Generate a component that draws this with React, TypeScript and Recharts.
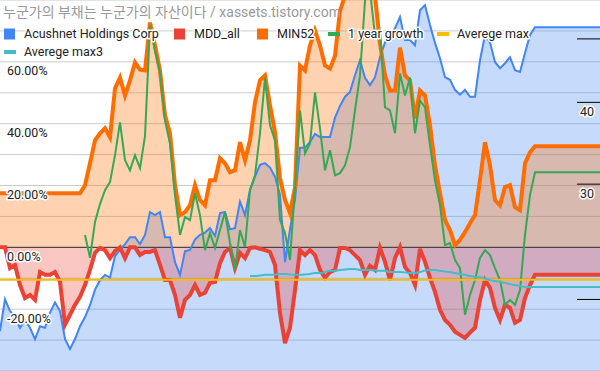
import React from 'react';
import { ComposedChart, Area, Line, XAxis, YAxis, CartesianGrid, ReferenceLine } from 'recharts';

const WIDTH = 600;
const HEIGHT = 371;

// one sample every ~5 px of the original x axis, oldest first (121 samples)
const PRICE = [
  17.9, 20.0, 19.2, 18.8, 18.1, 18.6, 18.1, 17.4, 18.2, 18.1,
  19.1, 19.8, 19.2, 17.4, 16.8, 17.4, 18.2, 18.8, 19.6, 20.7,
  21.4, 21.8, 21.6, 23.3, 23.8, 24.3, 24.9, 24.9, 24.3, 25.1,
  27.2, 26.9, 27.2, 24.9, 24.9, 22.8, 21.8, 23.7, 23.8, 24.7,
  25.1, 25.3, 25.7, 25.0, 27.1, 27.2, 25.6, 25.7, 28.2, 26.9,
  29.4, 30.8, 32.1, 32.3, 31.8, 30.8, 28.9, 22.8, 25.6, 28.4,
  34.1, 34.1, 34.8, 35.8, 35.4, 35.4, 35.4, 37.9, 39.5, 40.8,
  41.5, 44.0, 46.4, 43.6, 42.5, 43.7, 46.9, 49.4, 50.3, 51.9,
  54.0, 49.8, 49.8, 48.9, 55.3, 56.3, 52.5, 49.3, 46.7, 43.7,
  43.3, 41.8, 41.1, 41.8, 40.8, 40.8, 46.4, 50.7, 49.4, 46.1,
  45.1, 45.9, 46.9, 44.8, 44.5, 47.6, 50.7, 52.1, 52.1, 52.1,
  52.1, 52.1, 52.1, 52.1, 52.1, 52.1, 52.1, 52.1, 52.1, 52.1,
  52.1,
];

const MDD_ALL = [
  0, 0, -6.7, -5.7, -12.2, -16.4, -15.4, -17.0, -8.0, -8.9,
  -8.9, -8.0, -11.2, -25.0, -21.8, -18.6, -16.0, -12.2, -7.3, -1.8,
  -0.2, -0.9, -3.5, -1.2, 0, -3.5, 0, 0, -2.5, -1.5,
  -1.5, -0.9, -5.7, -10.6, -10.6, -15.4, -22.8, -17.0, -15.4, -12.2,
  -15.4, -14.7, -11.5, -11.2, -5.1, -1.5, -0.2, -6.7, -1.8, -3.5,
  -0.2, 0, -0.5, -0.9, -1.5, -5.7, -21.2, -31.0, -26.0, -13.8,
  -0.9, -2.5, -0.9, -2.5, -7.3, -9.9, -8.0, -7.3, -0.2, -0.2,
  -0.9, -2.5, -4.1, -8.9, -6.0, -7.3, -0.2, -4.7, -10.6, -3.5,
  0, -6.4, -8.3, -12.2, -0.5, -4.7, -9.9, -14.4, -20.2, -23.5,
  -25.1, -27.3, -28.3, -29.3, -27.6, -26.0, -17.0, -10.6, -13.1, -19.6,
  -23.5, -18.6, -19.6, -24.4, -23.5, -16.4, -12.2, -8.9, -8.9, -8.9,
  -8.9, -8.9, -8.9, -8.9, -8.9, -8.9, -8.9, -8.9, -8.9, -8.9,
  -8.9,
];

const MIN52 = [
  17.5, 17.5, 17.5, 17.5, 17.5, 17.5, 17.5, 17.5, 17.5, 17.5,
  17.5, 17.5, 17.5, 17.5, 17.5, 17.5, 17.5, 20.1, 27.2, 34.6,
  36.9, 38.5, 35.6, 51.4, 54.9, 49.1, 54.0, 59.8, 57.5, 57.2,
  72.7, 65.3, 57.2, 42.7, 36.9, 20.1, 10.4, 11.4, 13.6, 20.1,
  15.3, 13.6, 21.7, 21.7, 28.8, 27.2, 24.3, 24.9, 34.0, 28.2,
  34.6, 46.9, 54.0, 55.6, 45.9, 37.2, 22.4, 15.3, 11.1, 19.5,
  58.8, 57.2, 65.3, 70.1, 65.3, 58.8, 57.8, 62.0, 76.5, 81.4,
  83.0, 83.0, 84.6, 83.0, 81.4, 81.4, 65.9, 55.6, 50.7, 50.7,
  64.6, 55.6, 54.0, 41.7, 50.7, 49.1, 39.5, 26.5, 17.5, 8.8,
  5.6, 0.7, 2.4, 4.9, 7.8, 10.4, 21.7, 34.0, 26.5, 15.3,
  13.6, 19.5, 20.1, 13.0, 12.0, 27.2, 30.7, 32.7, 32.7, 32.7,
  32.7, 32.7, 32.7, 32.7, 32.7, 32.7, 32.7, 32.7, 32.7, 32.7,
  32.7,
];

const GROWTH_1Y = [
  null, null, null, null, null, null, null, null, null, null,
  null, null, null, null, null, null, null, 4.0, -3.4, 8.2,
  14.0, 18.5, 21.1, 29.8, 40.4, 28.2, 24.9, 29.8, 25.6, 36.0,
  71.7, 63.6, 56.5, 41.0, 33.6, 16.9, 4.0, 9.8, 8.8, 17.5,
  10.4, -0.9, 4.6, -0.2, 5.6, 11.4, 1.4, -7.3, 5.6, 0.1,
  18.5, 23.3, 36.9, 54.9, 39.5, 34.6, 8.8, 4.6, -4.1, 19.5,
  44.3, 30.4, 33.6, 50.1, 38.5, 24.9, 31.4, 23.3, 24.0, 26.5,
  32.4, 44.3, 55.6, 79.8, 83.0, 68.5, 70.1, 45.3, 44.3, 36.9,
  56.2, 49.1, 54.9, 36.9, 47.5, 45.3, 33.0, 21.7, 13.6, 0.7,
  1.4, -4.1, -6.7, -21.8, -15.4, -10.6, -3.4, -0.9, -2.5, -6.7,
  -10.6, -18.6, -17.0, -18.6, -13.8, 4.0, 16.9, 24.3, 24.3, 24.3,
  24.3, 24.3, 24.3, 24.3, 24.3, 24.3, 24.3, 24.3, 24.3, 24.3,
  24.3,
];

const AVG_MAX3 = [
  null, null, null, null, null, null, null, null, null, null,
  null, null, null, null, null, null, null, null, null, null,
  null, null, null, null, null, null, null, null, null, null,
  null, null, null, null, null, null, null, null, null, null,
  null, null, null, null, null, null, null, null, null, null,
  -9.3, -9.3, -9.1, -8.9, -8.9, -8.8, -8.6, -8.6, -8.8, -8.9,
  -8.9, -8.8, -8.6, -8.3, -8.3, -8.0, -7.6, -7.6, -7.3, -7.2,
  -7.0, -7.0, -7.3, -7.3, -7.3, -7.5, -7.6, -7.6, -8.0, -8.0,
  -8.0, -8.1, -8.3, -8.3, -8.0, -7.5, -7.3, -7.3, -7.6, -7.8,
  -8.0, -8.3, -8.6, -8.9, -9.3, -9.6, -9.7, -10.1, -10.6, -10.9,
  -11.2, -11.5, -11.9, -12.2, -12.5, -12.8, -12.8, -12.8, -12.8, -12.8,
  -12.8, -12.8, -12.8, -12.8, -12.8, -12.8, -12.8, -12.8, -12.8, -12.8,
  -12.8,
];

const AVG_MAX = -10.5;

const PCT_TICKS = [-40, -30, -20, -10, 0, 10, 20, 30, 40, 50, 60, 70, 80];
const PCT_LABELS = [-20, 0, 20, 40, 60];
const PRICE_TICKS = [20, 30, 40, 50];
const PRICE_LABELS = [30, 40];

const TITLE = '누군가의 부채는 누군가의 자산이다 / xassets.tistory.com';

const COLORS = {
  price: '#4285F4',
  mdd: '#EA4335',
  min52: '#FF6D01',
  growth: '#34A853',
  avgMax: '#FBBC04',
  avgMax3: '#46BDC6',
};

const data = PRICE.map((price, i) => ({
  i,
  price,
  mdd: MDD_ALL[i],
  min52: MIN52[i],
  growth: GROWTH_1Y[i],
  avgMax: AVG_MAX,
  avgMax3: AVG_MAX3[i],
}));

const FONT = 'Roboto, "Noto Sans CJK KR", sans-serif';
const halo = { stroke: '#fff', strokeWidth: 3, paintOrder: 'stroke' as const, strokeLinejoin: 'round' as const };

function PctTick(props: any) {
  const { y, payload } = props;
  if (!PCT_LABELS.includes(payload.value)) return <g />;
  return (
    <text x={7} y={y + 9} dy="0.35em" textAnchor="start" fontSize={12.5} fontFamily={FONT} fill="#222" style={halo}>
      {payload.value.toFixed(2)}%
    </text>
  );
}

function PriceTick(props: any) {
  const { y, payload } = props;
  return (
    <g>
      <line x1={WIDTH - 23} x2={WIDTH} y1={y} y2={y} stroke="#000" strokeWidth={1} />
      {PRICE_LABELS.includes(payload.value) && (
        <text x={WIDTH - 13} y={y + 9} dy="0.35em" textAnchor="middle" fontSize={12.5} fontFamily={FONT} fill="#222" style={halo}>
          {payload.value}
        </text>
      )}
    </g>
  );
}

const legendItems = [
  { name: 'Acushnet Holdings Corp', color: COLORS.price, kind: 'box', x: 4, row: 0 },
  { name: 'MDD_all', color: COLORS.mdd, kind: 'box', x: 174, row: 0 },
  { name: 'MIN52', color: COLORS.min52, kind: 'box', x: 257, row: 0 },
  { name: '1 year growth', color: COLORS.growth, kind: 'line', x: 328, row: 0 },
  { name: 'Averege max', color: COLORS.avgMax, kind: 'line', x: 437, row: 0 },
  { name: 'Averege max3', color: COLORS.avgMax3, kind: 'line', x: 4, row: 1 },
];

function Overlay() {
  return (
    <svg width={WIDTH} height={HEIGHT} style={{ position: 'absolute', left: 0, top: 0, pointerEvents: 'none' }}>
      <text x={3} y={12.5} dy="0.35em" fontSize={14} fontFamily={FONT} fill="#999">
        {TITLE}
      </text>
      {legendItems.map((item) => {
        const cy = item.row === 0 ? 34 : 52;
        return (
          <g key={item.name}>
            {item.kind === 'box' ? (
              <rect x={item.x} y={cy - 5.5} width={11} height={11} fill={item.color} />
            ) : (
              <rect x={item.x} y={cy - 2} width={12} height={4} fill={item.color} />
            )}
            <text x={item.x + 20} y={cy} dy="0.35em" fontSize={12.5} fontFamily={FONT} fill="#222" style={halo}>
              {item.name}
            </text>
          </g>
        );
      })}
    </svg>
  );
}

// fills first, then every line on top of all the fills
const fillProps = { type: 'linear' as const, stroke: 'none', fillOpacity: 0.3, dot: false, activeDot: false, isAnimationActive: false };
const lineProps = { type: 'linear' as const, dot: false, activeDot: false, isAnimationActive: false };

export default function App() {
  return (
    <div style={{ position: 'absolute', left: 0, top: 0, width: WIDTH, height: HEIGHT, background: '#fff' }}>
      <ComposedChart width={WIDTH} height={HEIGHT} data={data} margin={{ top: 0, right: -1, bottom: 0, left: -1 }}>
        <CartesianGrid yAxisId="pct" vertical={false} stroke="#cccccc" />
        <XAxis hide type="number" dataKey="i" domain={[0, PRICE.length - 1]} />
        <Area {...fillProps} yAxisId="price" dataKey="price" fill={COLORS.price} legendType="none" tooltipType="none" />
        <Area {...fillProps} yAxisId="pct" dataKey="mdd" fill={COLORS.mdd} baseValue={0} legendType="none" tooltipType="none" />
        <Area {...fillProps} yAxisId="pct" dataKey="min52" fill={COLORS.min52} baseValue={0} legendType="none" tooltipType="none" />
        <ReferenceLine yAxisId="pct" y={0} stroke="#333" strokeWidth={1} />
        <Line {...lineProps} yAxisId="price" dataKey="price" name="Acushnet Holdings Corp" stroke={COLORS.price} strokeWidth={2} />
        <Line {...lineProps} yAxisId="pct" dataKey="mdd" name="MDD_all" stroke={COLORS.mdd} strokeWidth={4} />
        <Line {...lineProps} yAxisId="pct" dataKey="min52" name="MIN52" stroke={COLORS.min52} strokeWidth={4} />
        <Line {...lineProps} yAxisId="pct" dataKey="growth" name="1 year growth" stroke={COLORS.growth} strokeWidth={2} />
        <Line {...lineProps} yAxisId="pct" dataKey="avgMax" name="Averege max" stroke={COLORS.avgMax} strokeWidth={2} />
        <Line {...lineProps} yAxisId="pct" type="monotone" dataKey="avgMax3" name="Averege max3" stroke={COLORS.avgMax3} strokeWidth={2} />
        <YAxis
          yAxisId="pct"
          domain={[-40, 80]}
          ticks={PCT_TICKS}
          interval={0}
          width={1}
          axisLine={false}
          tickLine={false}
          allowDataOverflow
          tick={(p: any) => <PctTick {...p} />}
        />
        <YAxis
          yAxisId="price"
          orientation="right"
          scale="log"
          domain={[15.55, 57.33]}
          ticks={PRICE_TICKS}
          interval={0}
          width={1}
          axisLine={false}
          tickLine={false}
          allowDataOverflow
          tick={(p: any) => <PriceTick {...p} />}
        />
      </ComposedChart>
      <Overlay />
    </div>
  );
}
